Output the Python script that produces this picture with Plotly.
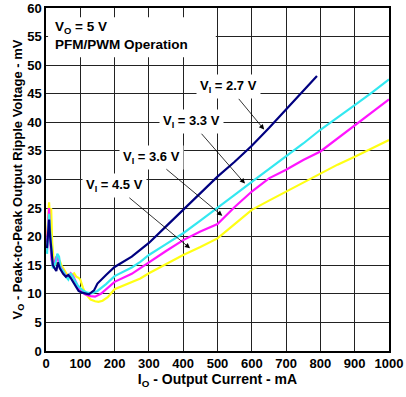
import numpy as np
import plotly.graph_objects as go

# ---------------- data ----------------
x_27 = [3, 6, 9, 12, 16, 20, 25, 30, 35, 40, 45, 50, 58, 65, 72, 80, 88, 95, 105, 115, 125, 140, 150,
        175, 200, 250, 275, 300, 350, 400, 450, 500, 550, 600, 650, 700, 750, 790]
y_27 = [18, 21, 23, 20, 17, 15, 14.5, 14, 15.5, 14.5, 14, 13.5, 13, 13.3, 12.8, 12, 11, 10.5, 10.2, 10, 9.9, 10.6, 11.8,
        13.3, 14.7, 16.5, 17.7, 18.9, 21.8, 24.7, 27.6, 30.5, 33.1, 35.9, 39.0, 42.3, 45.5, 48.1]

x_33 = [3, 6, 9, 12, 16, 20, 24, 28, 33, 38, 43, 50, 58, 65, 72, 78, 85, 92, 100, 110, 120, 133, 150,
        175, 200, 250, 275, 300, 350, 400, 450, 500, 550, 600, 650, 700, 750, 800, 850, 900, 950, 1000]
y_33 = [17, 22, 24, 21, 17, 14.5, 14.8, 15.5, 17, 16.5, 14.5, 14, 13, 12.5, 13.6, 13, 12.3, 11.5, 11, 10.5, 10.2, 10.1, 10.5,
        11.7, 13.1, 14.6, 15.6, 16.8, 18.7, 20.6, 22.8, 25.0, 27.3, 29.6, 31.8, 34.0, 36.3, 38.7, 40.8, 43.0, 45.2, 47.5]

x_36 = [3, 6, 9, 12, 16, 20, 25, 30, 35, 40, 45, 50, 58, 65, 72, 80, 88, 95, 105, 115, 130, 143, 160,
        175, 200, 250, 275, 300, 350, 400, 450, 500, 550, 600, 650, 700, 750, 800, 850, 900, 950, 1000]
y_36 = [19, 23, 25, 20, 16, 15, 15.5, 16.5, 16, 15, 14.5, 14, 13.2, 13, 13.6, 13, 12, 11, 10.3, 9.9, 9.6, 9.5, 10,
        10.8, 12.1, 13.5, 14.5, 15.6, 17.5, 19.4, 20.9, 22.2, 25.2, 27.9, 30.2, 31.7, 33.4, 34.9, 37.2, 39.5, 41.8, 44.0]

x_45 = [3, 6, 9, 12, 15, 18, 22, 26, 30, 35, 40, 45, 52, 60, 68, 75, 82, 88, 95, 100, 108, 118, 130, 143, 153,
        165, 180, 200, 250, 275, 300, 350, 400, 450, 500, 550, 600, 650, 700, 750, 800, 850, 900, 950, 1000]
y_45 = [20, 24, 26, 22, 25, 19, 16, 15, 15.5, 15, 15.8, 15, 14.2, 13.5, 13, 13.3, 13.6, 13, 12.8, 12.5, 11, 9.8, 9.0, 8.7, 8.6,
        8.8, 9.4, 10.8, 12.0, 12.7, 13.6, 15.2, 16.8, 18.2, 19.7, 22.2, 24.7, 26.3, 27.9, 29.5, 31.1, 32.6, 34.0, 35.5, 36.9]

series_names = ["V<sub>I</sub> = 2.7 V", "V<sub>I</sub> = 3.3 V", "V<sub>I</sub> = 3.6 V", "V<sub>I</sub> = 4.5 V"]
series_colors = ["#000080", "#33e8f0", "#ff14ff", "#ffff14"]

x_ticks = [0, 100, 200, 300, 400, 500, 600, 700, 800, 900, 1000]
y_ticks = [0, 5, 10, 15, 20, 25, 30, 35, 40, 45, 50, 55, 60]

FONT = "Liberation Sans, Arial, Helvetica, sans-serif"

fig = go.Figure()
all_x = [x_27, x_33, x_36, x_45]
all_y = [y_27, y_33, y_36, y_45]
for xs, ys, nm, col in reversed(list(zip(all_x, all_y, series_names, series_colors))):
    fig.add_trace(go.Scatter(x=xs, y=ys, mode="lines", name=nm,
                             line=dict(color=col, width=2.2), showlegend=False))

# label positions (tail) and arrow tip x on each curve
label_pos = [(533, 46.2), (423, 40.1), (309, 33.9), (201, 28.9)]
tip_x = [636, 580, 514, 420]
for (lx, ly), tx, xs, ys, nm in zip(label_pos, tip_x, all_x, all_y, series_names):
    ty = float(np.interp(tx, xs, ys)) + 0.6
    fig.add_annotation(x=tx, y=ty, ax=lx, ay=ly, axref="x", ayref="y", xref="x", yref="y",
                       text="<b>" + nm + "</b>", showarrow=True, arrowhead=2, arrowsize=1.3,
                       arrowwidth=0.8, arrowcolor="black", bgcolor="white", borderpad=3,
                       font=dict(family=FONT, size=13, color="black"))

# white panel behind the operating-condition note
fig.add_shape(type="rect", xref="x", yref="y", x0=6, x1=495, y0=51.4, y1=58.4,
              fillcolor="white", line=dict(width=0), layer="between")
fig.add_annotation(x=24, y=58.3, xref="x", yref="y", xanchor="left", yanchor="top",
                   text="<b>V<sub>O</sub> = 5 V</b><br><b>PFM/PWM Operation</b>",
                   align="left", showarrow=False, borderpad=0,
                   font=dict(family=FONT, size=13.5, color="black"))

fig.update_layout(
    width=406, height=397,
    margin=dict(l=46, r=17, t=8, b=46),
    paper_bgcolor="white", plot_bgcolor="white",
    font=dict(family=FONT, size=12, color="black"),
)
fig.update_xaxes(range=[0, 1000], tickvals=x_ticks, ticktext=["<b>%d</b>" % v for v in x_ticks],
                 showgrid=True, gridcolor="#222222", gridwidth=1, showline=True, linecolor="black",
                 linewidth=1.5, mirror=True, zeroline=False, ticks="", automargin=False,
                 tickfont=dict(family=FONT, size=13, color="black"),
                 title=dict(text="<b>I<sub>O</sub> - Output Current - mA</b>", standoff=2,
                            font=dict(family=FONT, size=14, color="black")))
fig.update_yaxes(range=[0, 60], tickvals=y_ticks, ticktext=["<b>%d</b>" % v for v in y_ticks],
                 showgrid=True, gridcolor="#222222", gridwidth=1, showline=True, linecolor="black",
                 linewidth=1.5, mirror=True, zeroline=False, ticks="", automargin=False,
                 tickfont=dict(family=FONT, size=13, color="black"),
                 title=dict(text="<b>V<sub>O</sub> - Peak-to-Peak Output Ripple Voltage - mV</b>", standoff=2,
                            font=dict(family=FONT, size=13, color="black")))

fig.write_html("out.html", config={"displayModeBar": False},
               post_script="document.body.style.margin='0px';")
